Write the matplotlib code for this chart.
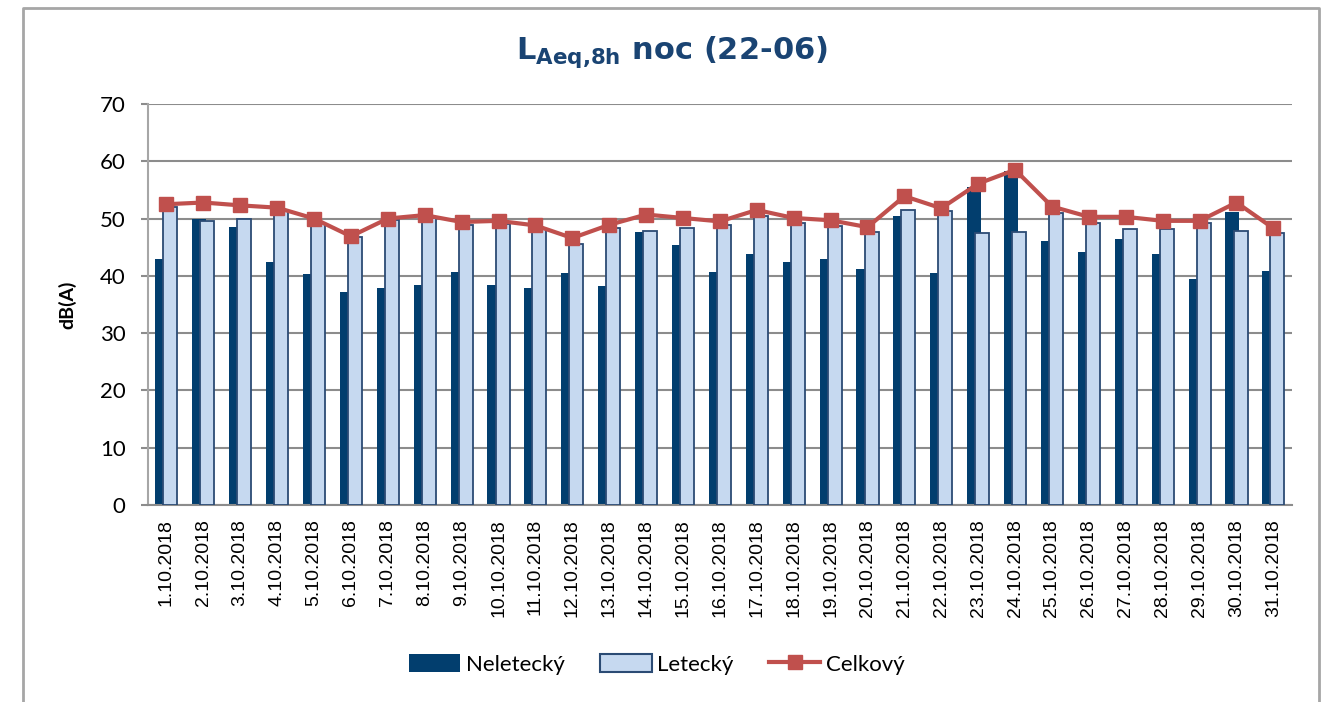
import matplotlib
matplotlib.use("Agg")
import matplotlib.pyplot as plt
from matplotlib.lines import Line2D
import numpy as np

# data (dB(A), night 22-06, October 2018)
dates = [f"{d}.10.2018" for d in range(1, 32)]
neletecky = [43.0, 50.0, 48.6, 42.4, 40.3, 37.1, 37.8, 38.4, 40.7, 38.4,
             37.9, 40.5, 38.3, 47.6, 45.3, 40.7, 43.8, 42.5, 42.9, 41.2,
             50.4, 40.5, 55.5, 58.3, 46.1, 44.1, 46.4, 43.9, 39.4, 51.2, 40.9]
letecky = [52.0, 49.6, 50.0, 51.4, 49.3, 46.7, 49.7, 50.1, 48.9, 49.0,
           48.1, 45.5, 48.4, 47.9, 48.4, 48.8, 50.5, 49.3, 48.7, 47.7,
           51.5, 51.4, 47.4, 47.6, 50.9, 49.2, 48.2, 48.2, 49.2, 47.9, 47.4]
celkovy = [52.5, 52.8, 52.3, 51.9, 50.0, 46.9, 50.0, 50.6, 49.4, 49.6,
           48.8, 46.6, 48.9, 50.7, 50.1, 49.5, 51.5, 50.1, 49.7, 48.5,
           53.9, 51.8, 56.1, 58.5, 52.1, 50.3, 50.3, 49.6, 49.6, 52.8, 48.3]

dark = "#023e6e"
light = "#c6d9f0"
light_edge = "#2b4b74"
red = "#c0504d"
grid_c = "#8c8c8c"

fig = plt.figure(figsize=(13.27, 7.02), dpi=100)
ax = fig.add_axes([0.1115, 0.2806, 0.862, 0.5713])

x = np.arange(len(dates))
w = 0.38
ax.bar(x - 0.11, neletecky, width=w, color=dark, zorder=2, label="Neletecký")
ax.bar(x + 0.11, letecky, width=w, color=light, edgecolor=light_edge,
       linewidth=1.3, zorder=3, label="Letecký")
ax.plot(x, celkovy, color=red, linewidth=3, marker="s", markersize=10,
        zorder=4, label="Celkový")

ax.set_xlim(-0.5, len(dates) - 0.5)
ax.set_ylim(0, 70)
ax.set_yticks(range(0, 71, 10))
ax.yaxis.grid(True, color=grid_c, linewidth=1.5, zorder=0)
ax.set_axisbelow(True)

for s in ["top", "right"]:
    ax.spines[s].set_visible(False)
ax.spines["left"].set_color("#a6a6a6")
ax.spines["left"].set_linewidth(1.5)
ax.spines["bottom"].set_color(grid_c)
ax.spines["bottom"].set_linewidth(1.5)

ax.tick_params(axis="y", length=5, width=1.5, color=grid_c, pad=11,
               labelsize=16)
for t in ax.get_yticklabels():
    t.set_family("Lato")
ax.set_xticks(x)
ax.set_xticklabels(dates, rotation=90, family="Liberation Sans", fontsize=14)
ax.tick_params(axis="x", length=0, pad=10)

ax.set_ylabel("dB(A)", family="Lato", fontweight="bold", fontsize=14,
              labelpad=17)

fig.text(0.506, 0.926, r"$\mathbf{L}_{\mathbf{Aeq{,}8h}}$ noc (22-06)",
         ha="center", va="center", fontsize=22, fontweight="bold",
         color="#1a4473")

# legend
h_dark = plt.Rectangle((0, 0), 1, 1, facecolor=dark)
h_light = plt.Rectangle((0, 0), 1, 1, facecolor=light, edgecolor=light_edge,
                        linewidth=1.5)
h_line = Line2D([], [], color=red, linewidth=3, marker="s", markersize=10)
fig.legend([h_dark, h_light, h_line], ["Neletecký", "Letecký", "Celkový"],
           loc="center", bbox_to_anchor=(0.495, 0.054), ncol=3,
           frameon=False, handlelength=2.3, handleheight=0.9,
           handletextpad=0.25, columnspacing=1.6,
           prop={"family": "Lato", "size": 16})

# outer chart frame (left, top, right)
fig.add_artist(Line2D([0.0173, 0.0173, 0.994, 0.994], [0.0, 0.9886, 0.9886, 0.0],
                      color="#a6a6a6", linewidth=2, transform=fig.transFigure))

fig.savefig("out.png", dpi=100)
